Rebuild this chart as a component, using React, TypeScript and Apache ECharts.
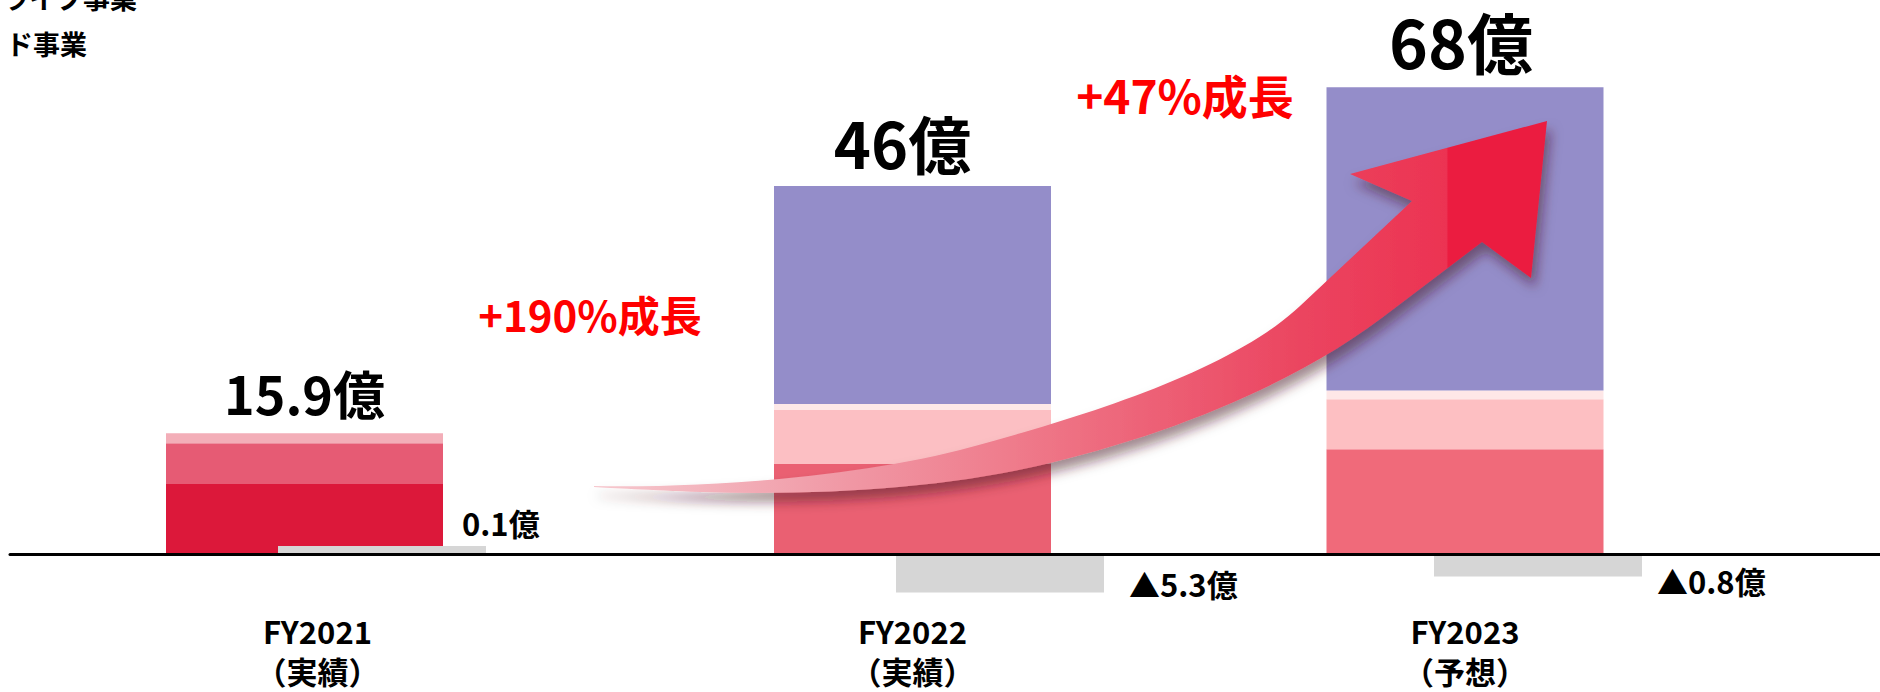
import React, { useEffect, useRef } from 'react';
import * as echarts from 'echarts';

// ---------- data ----------
const categories = ['FY2021\n（実績）', 'FY2022\n（実績）', 'FY2023\n（予想）'];
const seg1 = [8.75, 11.25, 13.1];
const seg2 = [5.1, 6.75, 6.25];
const seg3 = [1.25, 0.75, 1.1];
const seg4 = [0, 27.25, 37.9];
const profit = [1.0, -4.8, -2.8];
const totalLabels = ['15.9億', '46億', '68億'];
const profitLabels = ['0.1億', '▲5.3億', '▲0.8億'];
const growthLabels = ['+190%成長', '+47%成長'];
const legendLabels = ['ライブ事業', 'ド事業'];

// ---------- layout / style ----------
const FONT = '"Noto Sans CJK JP", "Noto Sans", sans-serif';
const MAIN_CENTERS = [304.5, 912.5, 1465];
const GRAY_CENTERS = [382, 1000, 1538];
const GRID_TOP = 74;
const GRID_H = 520;
const Y_MIN = -5;
const Y_MAX = 60;
const segColors = [
  ['#dc183a', '#ea6072', '#f06a7a'],
  ['#e65b74', '#fcbfc3', '#fdbfc2'],
  ['#f3aeb8', '#fde8e8', '#fee7e7'],
  ['#948dc9', '#948dc9', '#948dc9'],
];
const totalFont = [52, 63, 66];
const totalDist = [15, 13, 14];
const totalOffset = [[0, 0], [-10, 0], [-4, 0]];
const profitLabelPos = [
  { distance: 0, offset: [-24, -28] },
  { distance: 25, offset: [0, 10] },
  { distance: 15, offset: [0, 15] },
];

const ARROW_D =
  'M594 486 C700 488 850 478 960 450 C1080 418 1230 372 1300 306 L1412 201 L1350 174 L1547 121 L1531 278 L1482 242 L1383 317 C1300 380 1180 432 1050 463 C950 488 820 496 700 492 C650 490 610 488 594 487 Z';

let registered = false;
function ensureShape() {
  if (registered) return;
  echarts.graphic.registerShape('curvedArrow', echarts.graphic.extendPath(ARROW_D, {}));
  registered = true;
}

export default function App() {
  const ref = useRef<HTMLDivElement>(null);

  useEffect(() => {
    if (!ref.current) return;
    ensureShape();
    const chart = echarts.init(ref.current, undefined, { renderer: 'svg' });
    const segs = [seg1, seg2, seg3, seg4];
    const grid: any[] = [];
    const xAxis: any[] = [];
    const yAxis: any[] = [];
    const series: any[] = [];

    for (let i = 0; i < 3; i++) {
      grid.push({ left: MAIN_CENTERS[i] - 150, top: GRID_TOP, width: 300, height: GRID_H });
      xAxis.push({
        type: 'category',
        gridIndex: i,
        data: [categories[i]],
        axisLine: { show: false, onZero: false },
        axisTick: { show: false },
        axisLabel: {
          color: '#000',
          fontSize: 31,
          fontWeight: 'bold',
          fontFamily: FONT,
          lineHeight: 40,
          margin: 16,
          padding: i === 0 ? [0, 0, 0, 26] : [0, 0, 0, 0],
        },
      });
      yAxis.push({ type: 'value', gridIndex: i, min: Y_MIN, max: Y_MAX, show: false });
      let topIdx = 0;
      segs.forEach((s, k) => {
        if (s[i] > 0) topIdx = k;
      });
      segs.forEach((s, k) => {
        series.push({
          type: 'bar',
          xAxisIndex: i,
          yAxisIndex: i,
          stack: 'main' + i,
          barWidth: 277,
          data: [
            {
              value: s[i],
              itemStyle: { color: segColors[k][i] },
              label:
                k === topIdx
                  ? {
                      show: true,
                      position: 'top',
                      distance: totalDist[i],
                      offset: totalOffset[i],
                      formatter: totalLabels[i],
                      color: '#000',
                      fontSize: totalFont[i],
                      lineHeight: totalFont[i],
                      fontWeight: 'bold',
                      fontFamily: FONT,
                    }
                  : { show: false },
            },
          ],
        });
      });
    }

    for (let i = 0; i < 3; i++) {
      const gi = 3 + i;
      grid.push({ left: GRAY_CENTERS[i] - 150, top: GRID_TOP, width: 300, height: GRID_H });
      xAxis.push({ type: 'category', gridIndex: gi, data: [categories[i]], show: false });
      yAxis.push({ type: 'value', gridIndex: gi, min: Y_MIN, max: Y_MAX, show: false });
      series.push({
        type: 'bar',
        xAxisIndex: gi,
        yAxisIndex: gi,
        barWidth: 208,
        itemStyle: { color: '#d6d6d6' },
        label: {
          show: true,
          position: 'right',
          distance: profitLabelPos[i].distance,
          offset: profitLabelPos[i].offset,
          formatter: profitLabels[i],
          color: '#000',
          fontSize: 31,
          fontWeight: 'bold',
          fontFamily: FONT,
        },
        data: [profit[i]],
      });
    }

    // full-width baseline
    grid.push({ left: 10, right: 0, top: GRID_TOP, height: GRID_H });
    xAxis.push({
      type: 'category',
      gridIndex: 6,
      data: [''],
      z: 10,
      axisLine: { show: true, onZero: true, lineStyle: { color: '#000', width: 3 } },
      axisTick: { show: false },
      axisLabel: { show: false },
    });
    yAxis.push({ type: 'value', gridIndex: 6, min: Y_MIN, max: Y_MAX, show: false });

    const arrowFill = new echarts.graphic.LinearGradient(0, 0, 1, 0, [
      { offset: 0, color: '#f6c8ce' },
      { offset: 0.12, color: '#f3b3bc' },
      { offset: 0.27, color: '#f097a4' },
      { offset: 0.43, color: '#ef7d8d' },
      { offset: 0.58, color: '#ed6277' },
      { offset: 0.74, color: '#eb4560' },
      { offset: 0.895, color: '#ec3352' },
      { offset: 0.896, color: '#eb1c40' },
      { offset: 1, color: '#eb1c40' },
    ]);

    chart.setOption({
      animation: false,
      backgroundColor: '#ffffff',
      textStyle: { fontFamily: FONT },
      grid,
      xAxis,
      yAxis,
      series,
      graphic: [
        {
          type: 'curvedArrow',
          x: 0,
          y: 0,
          z: 100,
          style: {
            fill: arrowFill,
            shadowBlur: 12,
            shadowColor: 'rgba(70,20,35,0.5)',
            shadowOffsetX: 4,
            shadowOffsetY: 9,
          },
        },
        {
          type: 'text',
          x: 590,
          y: 313,
          z: 100,
          style: {
            text: growthLabels[0],
            fill: '#ff0000',
            fontSize: 42,
            fontWeight: 'bold',
            fontFamily: FONT,
            align: 'center',
            verticalAlign: 'middle',
          },
        },
        {
          type: 'text',
          x: 1185,
          y: 94,
          z: 100,
          style: {
            text: growthLabels[1],
            fill: '#ff0000',
            fontSize: 46,
            fontWeight: 'bold',
            fontFamily: FONT,
            align: 'center',
            verticalAlign: 'middle',
          },
        },
        {
          type: 'text',
          x: 2,
          y: -3,
          z: 100,
          style: {
            text: legendLabels[0],
            fill: '#000',
            fontSize: 27,
            fontWeight: 'bold',
            fontFamily: FONT,
            align: 'left',
            verticalAlign: 'middle',
          },
        },
        {
          type: 'text',
          x: 6,
          y: 43,
          z: 100,
          style: {
            text: legendLabels[1],
            fill: '#000',
            fontSize: 27,
            fontWeight: 'bold',
            fontFamily: FONT,
            align: 'left',
            verticalAlign: 'middle',
          },
        },
      ],
    });

    return () => {
      chart.dispose();
    };
  }, []);

  return (
    <div
      ref={ref}
      style={{ position: 'absolute', left: 0, top: 0, width: 1880, height: 692, background: '#fff' }}
    />
  );
}
